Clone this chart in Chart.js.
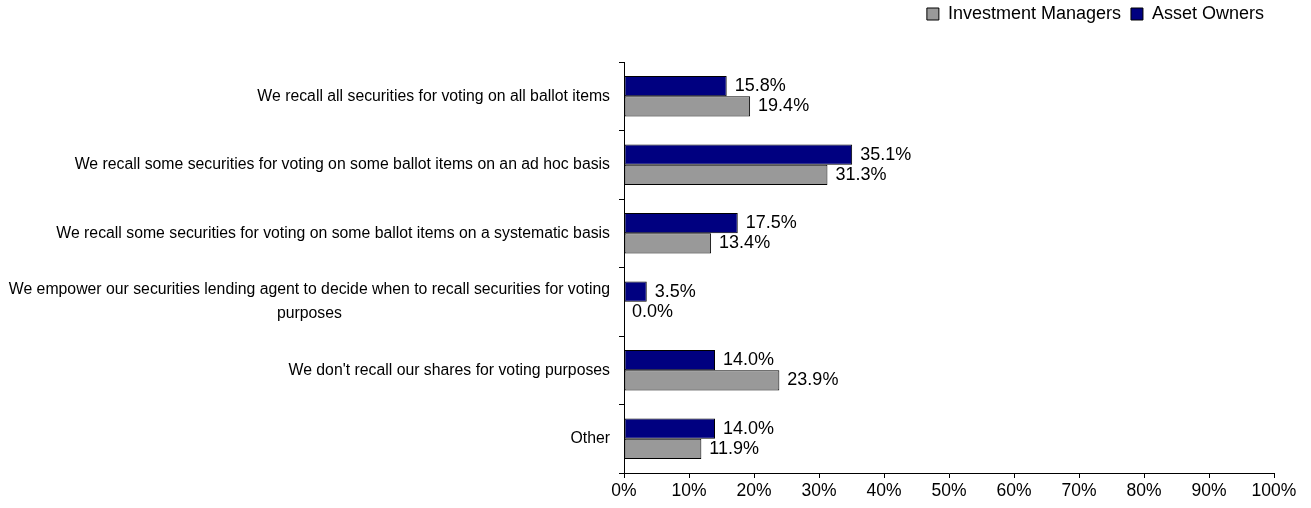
<!DOCTYPE html>
<html>
<head>
<meta charset="utf-8">
<script src="https://cdn.jsdelivr.net/npm/chart.js@4"></script>
<style>
  body { margin: 0; background: #fff; }
  canvas { display: block; }
</style>
</head>
<body>
<canvas id="myChart" width="1311" height="508"></canvas>
<script>
const FONT = '"Liberation Sans", Arial, sans-serif';

// categories (multi-line where the original wraps)
const labels = [
  ["We recall all securities for voting on all ballot items"],
  ["We recall some securities for voting on some ballot items on an ad hoc basis"],
  ["We recall some securities for voting on some ballot items on a systematic basis"],
  ["We empower our securities lending agent to decide when to recall securities for voting", "purposes"],
  ["We don't recall our shares for voting purposes"],
  ["Other"],
];

const assetOwners = [15.8, 35.1, 17.5, 3.5, 14.0, 14.0];
const investmentManagers = [19.4, 31.3, 13.4, 0.0, 23.9, 11.9];
const xTicks = [0, 10, 20, 30, 40, 50, 60, 70, 80, 90, 100];

const ctx = document.getElementById("myChart");

// draws the wrapped category names, right-aligned as a block, lines centered
const categoryLabels = {
  id: "categoryLabels",
  afterDraw(chart) {
    const c = chart.ctx;
    const y = chart.scales.y;
    const right = 610;
    const lineH = 24;
    c.save();
    c.font = "15.8px " + FONT;
    c.fillStyle = "#000";
    c.textBaseline = "middle";
    c.textAlign = "center";
    labels.forEach((lines, i) => {
      const w = Math.max(...lines.map((l) => c.measureText(l).width));
      const cx = right - w / 2;
      const cy = y.getPixelForValue(i);
      const top = cy - ((lines.length - 1) * lineH) / 2;
      lines.forEach((l, j) => c.fillText(l, cx, top + j * lineH));
    });
    c.restore();
  },
};

// value labels at the end of each bar
const valueLabels = {
  id: "valueLabels",
  afterDatasetsDraw(chart) {
    const c = chart.ctx;
    c.save();
    c.font = "18px " + FONT;
    c.fillStyle = "#000";
    c.textBaseline = "middle";
    c.textAlign = "left";
    chart.data.datasets.forEach((ds, di) => {
      chart.getDatasetMeta(di).data.forEach((bar, i) => {
        c.fillText(ds.data[i].toFixed(1) + "%", bar.x + 8, bar.y);
      });
    });
    c.restore();
  },
};

// extra space under the legend
const legendGap = {
  id: "legendGap",
  beforeInit(chart) {
    const fit = chart.legend.fit;
    chart.legend.fit = function () {
      fit.bind(chart.legend)();
      this.height += 29;
    };
  },
};

const myChart = new Chart(ctx, {
  type: "bar",
  data: {
    labels: labels.map((l) => l.join(" ")),
    datasets: [
      {
        label: "Asset Owners",
        data: assetOwners,
        backgroundColor: "#000080",
        borderColor: "#000",
        borderWidth: 1,
        borderSkipped: false,
      },
      {
        label: "Investment Managers",
        data: investmentManagers,
        backgroundColor: "#999999",
        borderColor: "#000",
        borderWidth: 1,
        borderSkipped: false,
      },
    ],
  },
  options: {
    responsive: false,
    animation: false,
    indexAxis: "y",
    categoryPercentage: 0.59,
    barPercentage: 1,
    layout: { padding: { left: 0, right: 37, top: -5, bottom: 3 } },
    plugins: {
      legend: {
        position: "top",
        align: "end",
        reverse: true,
        labels: {
          boxWidth: 12,
          boxHeight: 12,
          padding: 10,
          color: "#000",
          font: { family: FONT, size: 18 },
        },
      },
      tooltip: { enabled: false },
    },
    scales: {
      x: {
        min: 0,
        max: 100,
        afterBuildTicks: (s) => {
          s.ticks = xTicks.map((v) => ({ value: v }));
        },
        ticks: {
          color: "#000",
          padding: 3,
          font: { family: FONT, size: 17.5 },
          callback: (v) => v + "%",
        },
        grid: { drawOnChartArea: false, tickLength: 5, color: "#000" },
        border: { color: "#000" },
      },
      y: {
        ticks: { display: false },
        grid: { drawOnChartArea: false, tickLength: 5, color: "#000" },
        border: { color: "#000" },
        afterFit: (s) => {
          s.width = 624;
        },
      },
    },
  },
  plugins: [categoryLabels, valueLabels, legendGap],
});
</script>
</body>
</html>
